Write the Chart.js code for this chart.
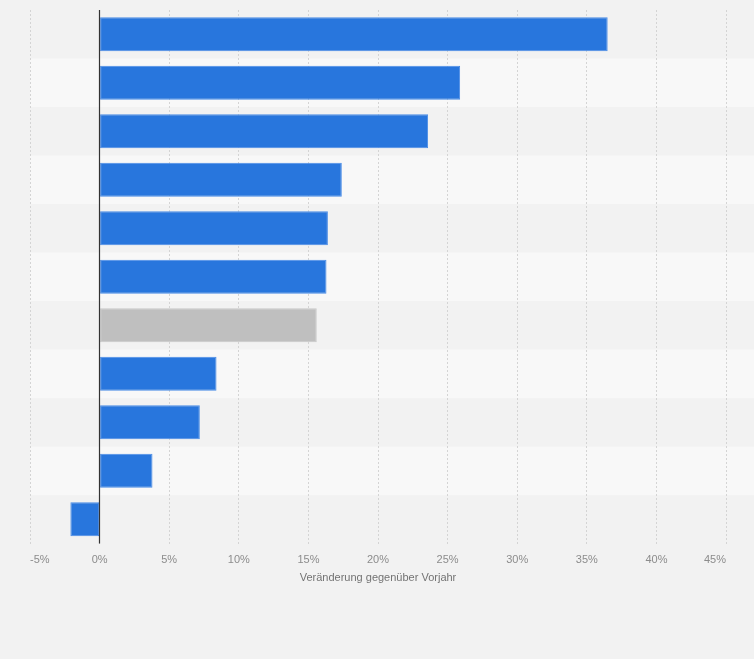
<!DOCTYPE html>
<html>
<head>
<meta charset="utf-8">
<script src="https://cdn.jsdelivr.net/npm/chart.js@4"></script>
<style>
    html, body { margin: 0; padding: 0; background: #f2f2f2; }
    #wrap { width: 754px; height: 659px; }
</style>
</head>
<body>
<div id="wrap"><canvas id="grafico"></canvas></div>
<script>
    // Datos
    const categorias = ['K1', 'K2', 'K3', 'K4', 'K5', 'K6', 'K7', 'K8', 'K9', 'K10', 'K11'];
    const valores = [36.5, 25.9, 23.6, 17.4, 16.4, 16.3, 15.6, 8.4, 7.2, 3.8, -2.1];
    const resaltado = [false, false, false, false, false, false, true, false, false, false, false];
    const ticksX = [-5, 0, 5, 10, 15, 20, 25, 30, 35, 40, 45];

    const azul = '#2876dd';
    const gris = '#bfbfbf';

    // Fondo y franjas alternas
    const franjas = {
        id: 'franjas',
        beforeDraw(chart) {
            const ctx = chart.ctx;
            const area = chart.chartArea;
            const y = chart.scales.y;
            ctx.save();
            ctx.fillStyle = '#f2f2f2';
            ctx.fillRect(0, 0, chart.width, chart.height);
            const paso = (area.bottom - area.top) / categorias.length;
            categorias.forEach((c, i) => {
                if (i % 2 === 1) {
                    const centro = y.getPixelForValue(i);
                    ctx.fillStyle = '#f8f8f8';
                    ctx.fillRect(area.left, centro - paso / 2, chart.width - area.left, paso);
                }
            });
            ctx.restore();
        }
    };

    // Linea del cero
    const lineaCero = {
        id: 'lineaCero',
        afterDatasetsDraw(chart) {
            const ctx = chart.ctx;
            const area = chart.chartArea;
            const x0 = Math.round(chart.scales.x.getPixelForValue(0)) - 0.5;
            ctx.save();
            ctx.strokeStyle = '#333333';
            ctx.lineWidth = 1.2;
            ctx.beginPath();
            ctx.moveTo(x0, area.top);
            ctx.lineTo(x0, area.bottom);
            ctx.stroke();
            ctx.restore();
        }
    };

    new Chart(document.getElementById('grafico'), {
        type: 'bar',
        data: {
            labels: categorias,
            datasets: [{
                data: valores,
                backgroundColor: resaltado.map(r => r ? gris : azul),
                borderColor: resaltado.map(r => r ? '#c9c9c9' : '#4a8ce6'),
                borderWidth: 1,
                borderSkipped: false,
                barPercentage: 0.7,
                categoryPercentage: 1
            }]
        },
        options: {
            indexAxis: 'y',
            responsive: true,
            maintainAspectRatio: false,
            animation: false,
            layout: { padding: { left: 30, right: 28, top: 10, bottom: 74 } },
            plugins: {
                legend: { display: false },
                tooltip: { enabled: false }
            },
            scales: {
                x: {
                    min: -5,
                    max: 45,
                    afterBuildTicks(axis) {
                        axis.ticks = ticksX.map(v => ({ value: v }));
                    },
                    grid: {
                        color: '#d4d4d4',
                        lineWidth: 1,
                        drawTicks: false
                    },
                    border: { display: false, dash: [2, 2] },
                    ticks: {
                        align: 'inner',
                        padding: 10,
                        color: '#8c8c8c',
                        font: { family: 'Liberation Sans, Arial, sans-serif', size: 11 },
                        callback: v => v + '%'
                    },
                    title: {
                        display: true,
                        text: 'Veränderung gegenüber Vorjahr',
                        color: '#737373',
                        padding: { top: -5, bottom: 0 },
                        font: { family: 'Liberation Sans, Arial, sans-serif', size: 11 }
                    }
                },
                y: {
                    display: false,
                    grid: { display: false }
                }
            }
        },
        plugins: [franjas, lineaCero]
    });
</script>
</body>
</html>
